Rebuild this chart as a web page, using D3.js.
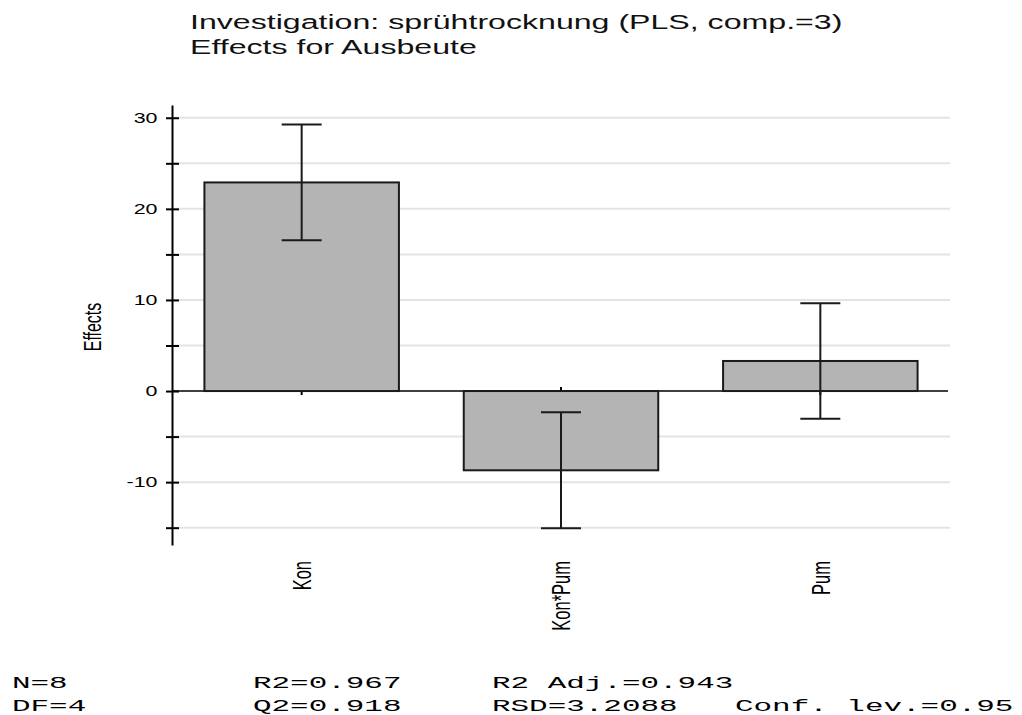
<!DOCTYPE html>
<html>

<head>
    <meta charset="UTF-8">
    <title>Effects for Ausbeute</title>
    <style>
        body {
            margin: 0;
            background: #fff;
            font-family: 'Liberation Sans', Arial, sans-serif;
        }

        .grid line {
            stroke: #e4e4e4;
            stroke-width: 2;
        }

        .bar {
            fill: #b4b4b4;
            stroke: #1a1a1a;
            stroke-width: 2;
        }

        .err line {
            stroke: #1a1a1a;
            stroke-width: 2;
        }

        .yaxis path,
        .yaxis line {
            stroke: #000;
            stroke-width: 2;
        }

        .yaxis text {
            font-size: 14px;
            fill: #000;
        }

        .stats text {
            font-family: 'Liberation Mono', monospace;
            font-size: 17px;
            fill: #000;
        }
    </style>
</head>

<body>
    <script src="https://d3js.org/d3.v7.min.js"></script>
    <script>
        /// data

        var terms = ["Kon", "Kon*Pum", "Pum"];
        var effects = [22.9, -8.7, 3.3];
        var confInt = [6.35, 6.37, 6.35];
        var yTicks = [-15, -10, -5, 0, 5, 10, 15, 20, 25, 30];
        var titleLines = ["Investigation: sprühtrocknung (PLS, comp.=3)", "Effects for Ausbeute"];
        var statsRow1 = ["N=8", "R2=0.967", "R2 Adj.=0.943"];
        var statsRow2 = ["DF=4", "Q2=0.918", "RSD=3.2088", "Conf. lev.=0.95"];

        /// layout

        var width = 1022,
            height = 715;
        var plot = { left: 172, right: 950, top: 105, bottom: 545 };
        // the picture is stretched sideways, so text gets the same stretch
        var stretch = 1.53;

        var svg = d3.select("body").append("svg")
            .attr("width", width)
            .attr("height", height);

        var x = d3.scaleBand()
            .domain(terms)
            .range([plot.left, plot.right])
            .paddingInner(0.25)
            .paddingOuter(0.125);

        var y = d3.scaleLinear()
            .domain([-16.9, 31.4])
            .range([plot.bottom, plot.top]);

        var rows = terms.map(function(t, i) {
            return { term: t, effect: effects[i], ci: confInt[i] };
        });

        // title
        svg.append("g")
            .attr("class", "title")
            .selectAll("text")
            .data(titleLines)
            .enter().append("text")
            .attr("transform", function(d, i) {
                return "translate(190," + (29 + i * 25) + ") scale(" + stretch + ",1)";
            })
            .style("font-size", "21px")
            .style("fill", "#111")
            .text(function(d) { return d; });

        // gridlines
        svg.append("g")
            .attr("class", "grid")
            .selectAll("line")
            .data(yTicks.filter(function(d) { return d !== 0; }))
            .enter().append("line")
            .attr("x1", plot.left)
            .attr("x2", plot.right)
            .attr("y1", function(d) { return y(d); })
            .attr("y2", function(d) { return y(d); });

        // zero line + small term ticks
        svg.append("line")
            .attr("x1", plot.left)
            .attr("x2", plot.right - 2)
            .attr("y1", y(0))
            .attr("y2", y(0))
            .style("stroke", "#000")
            .style("stroke-width", 1.5);

        svg.append("g")
            .selectAll("line")
            .data(terms)
            .enter().append("line")
            .attr("x1", function(d) { return x(d) + x.bandwidth() / 2; })
            .attr("x2", function(d) { return x(d) + x.bandwidth() / 2; })
            .attr("y1", y(0) - 4)
            .attr("y2", y(0) + 4)
            .style("stroke", "#000")
            .style("stroke-width", 2);

        // bars
        svg.append("g")
            .selectAll("rect")
            .data(rows)
            .enter().append("rect")
            .attr("class", "bar")
            .attr("x", function(d) { return x(d.term); })
            .attr("width", x.bandwidth())
            .attr("y", function(d) { return y(Math.max(0, d.effect)); })
            .attr("height", function(d) { return Math.abs(y(d.effect) - y(0)); });

        // error bars
        var capHalf = 20;
        var err = svg.append("g")
            .attr("class", "err")
            .selectAll("g")
            .data(rows)
            .enter().append("g")
            .attr("transform", function(d) {
                return "translate(" + (x(d.term) + x.bandwidth() / 2) + ",0)";
            });
        err.append("line")
            .attr("y1", function(d) { return y(d.effect + d.ci); })
            .attr("y2", function(d) { return y(d.effect - d.ci); });
        err.append("line")
            .attr("x1", -capHalf).attr("x2", capHalf)
            .attr("y1", function(d) { return y(d.effect + d.ci); })
            .attr("y2", function(d) { return y(d.effect + d.ci); });
        err.append("line")
            .attr("x1", -capHalf).attr("x2", capHalf)
            .attr("y1", function(d) { return y(d.effect - d.ci); })
            .attr("y2", function(d) { return y(d.effect - d.ci); });

        // y axis, ticks cross the line
        var yAxis = d3.axisLeft(y)
            .tickValues(yTicks)
            .tickSize(6)
            .tickSizeOuter(0)
            .tickFormat(function(d) { return d % 10 === 0 ? d : ""; });

        var gy = svg.append("g")
            .attr("class", "yaxis")
            .attr("transform", "translate(" + plot.left + ",0)")
            .call(yAxis);
        gy.selectAll(".tick line").attr("x1", 7);
        gy.selectAll(".tick text")
            .attr("x", -9.5)
            .attr("transform", "scale(" + stretch + ",1)");

        svg.append("text")
            .attr("transform", "translate(92,327) scale(" + stretch + ",1) rotate(-90)")
            .attr("text-anchor", "middle")
            .attr("dy", "0.35em")
            .style("font-size", "16px")
            .text("Effects");

        // term labels
        svg.append("g")
            .selectAll("text")
            .data(terms)
            .enter().append("text")
            .attr("transform", function(d) {
                return "translate(" + (x(d) + x.bandwidth() / 2) + ",561) scale(1.6,1) rotate(-90)";
            })
            .attr("text-anchor", "end")
            .attr("dy", "0.35em")
            .style("font-size", "16.5px")
            .text(function(d) { return d; });

        // footer statistics
        var statCols = [12, 253, 492, 735];
        var stats = svg.append("g").attr("class", "stats");
        [statsRow1, statsRow2].forEach(function(row, r) {
            stats.selectAll(".r" + r)
                .data(row)
                .enter().append("text")
                .attr("class", "r" + r)
                .attr("transform", function(d, i) {
                    return "translate(" + statCols[i] + "," + (688 + r * 23) + ") scale(1.82,1)";
                })
                .text(function(d) { return d; });
        });
    </script>
</body>

</html>
